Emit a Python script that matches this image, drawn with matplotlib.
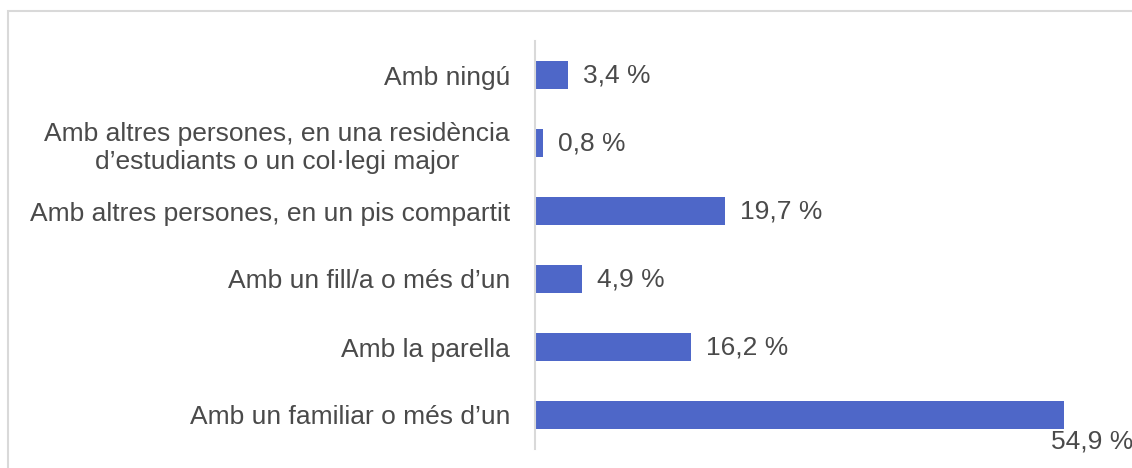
import matplotlib.pyplot as plt

plt.rcParams['font.family'] = ['Liberation Sans', 'DejaVu Sans']

# dades (de dalt a baix)
categories = [
    "Amb ningú",
    "Amb altres persones, en una residència\nd’estudiants o un col·legi major",
    "Amb altres persones, en un pis compartit",
    "Amb un fill/a o més d’un",
    "Amb la parella",
    "Amb un familiar o més d’un",
]
values = [3.4, 0.8, 19.7, 4.9, 16.2, 54.9]
labels = ["3,4 %", "0,8 %", "19,7 %", "4,9 %", "16,2 %", "54,9 %"]

bar_color = '#4E67C8'
text_color = '#4A4A4A'

fig = plt.figure(figsize=(11.32, 4.68), dpi=100)
ax = fig.add_axes([535 / 1132, 19 / 468, 578 / 1132, 408 / 468])

y = list(range(len(categories)))
ax.barh(y, values, height=0.4, color=bar_color)
ax.set_ylim(len(categories) - 0.5, -0.5)
ax.set_xlim(0, 60)

ax.set_yticks(y)
ax.set_yticklabels(categories, fontsize=19, color=text_color,
                   multialignment='center', linespacing=1.25)
ax.tick_params(axis='y', length=0, pad=18)
ax.set_xticks([])

for s in ['top', 'right', 'bottom']:
    ax.spines[s].set_visible(False)
ax.spines['left'].set_color('#D9D9D9')
ax.spines['left'].set_linewidth(1.5)

# etiquetes de valor
for i, (v, lab) in enumerate(zip(values, labels)):
    if i == len(values) - 1:
        ax.annotate(lab, (v, i), xytext=(-9, -19), textcoords='offset points',
                    ha='left', va='center', fontsize=19, color=text_color,
                    annotation_clip=False)
    else:
        ax.annotate(lab, (v, i), xytext=(11, 0), textcoords='offset points',
                    ha='left', va='center', fontsize=19, color=text_color)

# marc del gràfic
fig.add_artist(plt.Rectangle((7.5 / 1132, -0.1), 1.2, 0.1 + (468 - 11) / 468,
                             transform=fig.transFigure, fill=False,
                             ec='#D9D9D9', lw=1.5))

fig.savefig('out.png', dpi=100)
